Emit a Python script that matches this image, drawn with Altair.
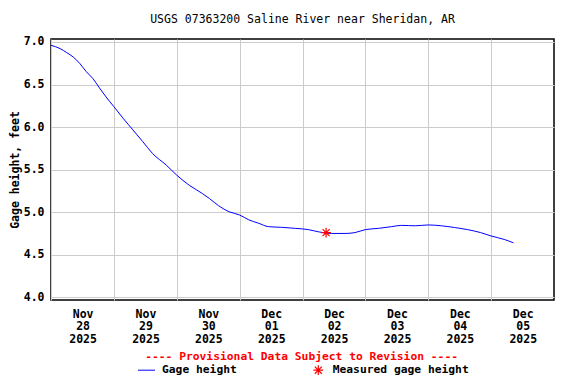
import altair as alt
import pandas as pd

# Gage height series
times = [
    "2025-11-28T00:00", "2025-11-28T03:30", "2025-11-28T06:00", "2025-11-28T08:30",
    "2025-11-28T11:00", "2025-11-28T13:30", "2025-11-28T16:00", "2025-11-28T18:30",
    "2025-11-28T21:00", "2025-11-29T00:00", "2025-11-29T03:30",
    "2025-11-29T07:15", "2025-11-29T11:00", "2025-11-29T14:45", "2025-11-29T20:00",
    "2025-11-30T00:00", "2025-11-30T04:45", "2025-11-30T09:45", "2025-11-30T12:30",
    "2025-11-30T16:00", "2025-11-30T20:00", "2025-12-01T00:00", "2025-12-01T03:30",
    "2025-12-01T07:15", "2025-12-01T11:00", "2025-12-01T16:00", "2025-12-01T21:15",
    "2025-12-02T02:15", "2025-12-02T06:00", "2025-12-02T11:00", "2025-12-02T16:15",
    "2025-12-02T20:00", "2025-12-03T00:00", "2025-12-03T05:00", "2025-12-03T10:00",
    "2025-12-03T13:45", "2025-12-03T19:00", "2025-12-04T00:00", "2025-12-04T05:00",
    "2025-12-04T10:00", "2025-12-04T15:00", "2025-12-04T20:00", "2025-12-05T00:00",
    "2025-12-05T05:00", "2025-12-05T08:30",
]
gage_height = [
    6.961, 6.922, 6.875, 6.823,
    6.747, 6.65, 6.57, 6.46,
    6.355, 6.24, 6.104,
    5.967, 5.83, 5.69, 5.553,
    5.435, 5.317, 5.22, 5.16,
    5.075, 5.005, 4.967, 4.91,
    4.87, 4.83, 4.822, 4.81,
    4.795, 4.77, 4.75, 4.75,
    4.76, 4.795, 4.81, 4.83,
    4.845, 4.84, 4.85, 4.84,
    4.82, 4.795, 4.76, 4.72,
    4.68, 4.64,
]

# Field measurement
measured_times = ["2025-12-02T09:00"]
measured_values = [4.76]

title_text = "USGS 07363200 Saline River near Sheridan, AR"
provisional_text = "---- Provisional Data Subject to Revision ----"
legend_labels = ["Gage height", "Measured gage height"]
y_ticks = [4.0, 4.5, 5.0, 5.5, 6.0, 6.5, 7.0]
x_tick_days = [(11, 28), (11, 29), (11, 30), (12, 1), (12, 2), (12, 3), (12, 4), (12, 5)]

FONT = "DejaVu Sans Mono"
W, H = 503, 261

series = pd.DataFrame({"time": times, "height": gage_height})
measured = pd.DataFrame({"time": measured_times, "height": measured_values})
one = pd.DataFrame({"a": [0]})

x_scale = alt.Scale(domain=[alt.DateTime(year=2025, month=11, date=28),
                            alt.DateTime(year=2025, month=12, date=6)])
y_scale = alt.Scale(domain=[3.968, 7.035], nice=False, zero=False)

x_axis = alt.Axis(
    values=[alt.DateTime(year=2025, month=m, date=d) for m, d in x_tick_days],
    format="%b %d %Y",
    labelExpr="split(datum.label, ' ')",
    labelOffset=31.6,
    labelPadding=8,
    labelLineHeight=12.7,
    labelFont=FONT, labelFontSize=11.5, labelFontWeight="bold", labelColor="black",
    labelOverlap=False, labelFlush=False, labelBaseline="top",
    ticks=False, tickSize=0, domain=False,
    grid=True, gridColor="#cccccc", gridWidth=1,
    title=None,
)
y_axis = alt.Axis(
    values=y_ticks, format=".1f",
    labelFont=FONT, labelFontSize=11.5, labelFontWeight="bold", labelColor="black",
    labelPadding=7,
    ticks=False, tickSize=0, domain=False,
    grid=True, gridColor="#cccccc", gridWidth=1,
    title="Gage height, feet",
    titleFont=FONT, titleFontSize=11.5, titleFontWeight="bold", titleColor="black",
    titlePadding=3,
)

line = alt.Chart(series).mark_line(color="#0000ff", strokeWidth=1, interpolate="monotone").encode(
    x=alt.X("time:T", scale=x_scale, axis=x_axis),
    y=alt.Y("height:Q", scale=y_scale, axis=y_axis),
)

ASTERISK = "M-1,0L1,0M0,-1L0,1M-0.72,-0.72L0.72,0.72M-0.72,0.72L0.72,-0.72"

meas = alt.Chart(measured).mark_point(
    shape=ASTERISK, filled=False, color="#ff0000", size=95, strokeWidth=1.2, opacity=1
).encode(
    x=alt.X("time:T", scale=x_scale),
    y=alt.Y("height:Q", scale=y_scale),
)

title = alt.Chart(one).mark_text(
    text=title_text, font=FONT, fontSize=11.5, color="black", align="center", baseline="middle"
).encode(x=alt.value(W / 2), y=alt.value(-19))

prov = alt.Chart(one).mark_text(
    text=provisional_text, font=FONT, fontSize=11.3, fontWeight="bold", color="#ff0000",
    align="center", baseline="middle"
).encode(x=alt.value(250.6), y=alt.value(317.5))

LEG_Y = 331.2
leg_line = alt.Chart(one).mark_rule(color="#0000ff", strokeWidth=1).encode(
    x=alt.value(87), x2=alt.value(104), y=alt.value(LEG_Y)
)
leg_text1 = alt.Chart(one).mark_text(
    text=legend_labels[0], font=FONT, fontSize=11.3, fontWeight="bold", color="black",
    align="left", baseline="middle"
).encode(x=alt.value(111), y=alt.value(LEG_Y))
leg_star = alt.Chart(one).mark_point(
    shape=ASTERISK, filled=False, color="#ff0000", size=95, strokeWidth=1.2, opacity=1
).encode(x=alt.value(267.3), y=alt.value(LEG_Y))
leg_text2 = alt.Chart(one).mark_text(
    text=legend_labels[1], font=FONT, fontSize=11.3, fontWeight="bold", color="black",
    align="left", baseline="middle"
).encode(x=alt.value(281.7), y=alt.value(LEG_Y))

chart = alt.layer(
    line, meas, title, prov, leg_line, leg_text1, leg_star, leg_text2
).properties(
    width=W, height=H,
    autosize=alt.AutoSizeParams(type="none"),
    padding={"left": 43, "top": 31, "right": 14, "bottom": 76},
    background="white",
).configure_view(stroke="black", strokeWidth=1.5)

chart.save("out.html", embed_options={"renderer": "svg", "actions": False})
